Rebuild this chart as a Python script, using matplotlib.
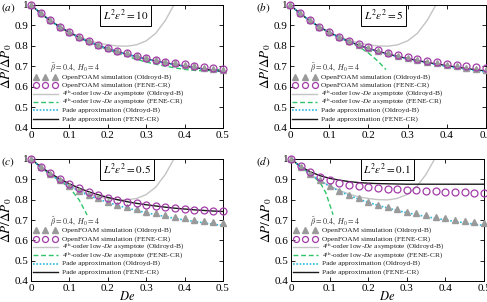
import matplotlib
matplotlib.use("Agg")
import matplotlib.pyplot as plt
import numpy as np

plt.rcParams['font.family'] = ['Liberation Serif', 'DejaVu Serif']
plt.rcParams['mathtext.fontset'] = 'stix'

# ---------------- data ----------------
De = [0.0, 0.025, 0.05, 0.075, 0.1, 0.125, 0.15, 0.175, 0.2, 0.225, 0.25,
      0.275, 0.3, 0.325, 0.35, 0.375, 0.4, 0.425, 0.45, 0.475, 0.5]

sim_oldroyd = [1.0, 0.960, 0.925, 0.895, 0.868, 0.845, 0.825, 0.806, 0.790, 0.776, 0.764,
               0.752, 0.741, 0.732, 0.723, 0.715, 0.708, 0.701, 0.695, 0.690, 0.685]

pade_oldroyd = [1.0, 0.960, 0.924, 0.893, 0.866, 0.842, 0.821, 0.803, 0.787, 0.772, 0.759,
                0.747, 0.736, 0.726, 0.717, 0.708, 0.700, 0.693, 0.686, 0.679, 0.673]

asym_oldroyd_De = [0.0, 0.025, 0.05, 0.075, 0.1, 0.125, 0.15, 0.175, 0.2, 0.225, 0.25,
                   0.275, 0.3, 0.325, 0.35, 0.375, 0.4]
asym_oldroyd = [1.0, 0.960, 0.925, 0.894, 0.868, 0.846, 0.828, 0.814, 0.806, 0.800, 0.799,
                0.806, 0.825, 0.862, 0.925, 1.010, 1.100]

labels_box = ["$L^2\\epsilon^2 = 10$", "$L^2\\epsilon^2 = 5$",
              "$L^2\\epsilon^2 = 0.5$", "$L^2\\epsilon^2 = 0.1$"]
panel_tags = ["$(a)$", "$(b)$", "$(c)$", "$(d)$"]

sim_fene = [
    [1.0, 0.960, 0.925, 0.895, 0.868, 0.845, 0.825, 0.807, 0.791, 0.777, 0.764,
     0.752, 0.742, 0.733, 0.724, 0.717, 0.710, 0.703, 0.697, 0.692, 0.687],
    [1.0, 0.960, 0.925, 0.895, 0.869, 0.846, 0.826, 0.808, 0.793, 0.779, 0.766,
     0.755, 0.745, 0.736, 0.728, 0.721, 0.714, 0.708, 0.702, 0.697, 0.692],
    [1.0, 0.962, 0.930, 0.902, 0.877, 0.856, 0.838, 0.823, 0.810, 0.799, 0.790,
     0.782, 0.775, 0.769, 0.764, 0.759, 0.755, 0.751, 0.748, 0.745, 0.743],
    [1.0, 0.965, 0.935, 0.912, 0.895, 0.882, 0.873, 0.866, 0.861, 0.857, 0.854,
     0.851, 0.848, 0.846, 0.844, 0.842, 0.840, 0.838, 0.836, 0.834, 0.832],
]

pade_fene = [
    [1.0, 0.960, 0.924, 0.893, 0.866, 0.842, 0.821, 0.803, 0.787, 0.773, 0.760,
     0.748, 0.737, 0.727, 0.718, 0.710, 0.702, 0.695, 0.688, 0.681, 0.675],
    [1.0, 0.960, 0.924, 0.893, 0.866, 0.843, 0.822, 0.804, 0.788, 0.774, 0.761,
     0.749, 0.739, 0.729, 0.720, 0.712, 0.704, 0.697, 0.690, 0.684, 0.678],
    [1.0, 0.962, 0.930, 0.902, 0.878, 0.857, 0.839, 0.824, 0.811, 0.800, 0.790,
     0.782, 0.775, 0.769, 0.763, 0.758, 0.754, 0.750, 0.747, 0.744, 0.742],
    [1.0, 0.963, 0.937, 0.918, 0.905, 0.896, 0.889, 0.884, 0.881, 0.879, 0.878,
     0.877, 0.876, 0.876, 0.876, 0.876, 0.876, 0.876, 0.876, 0.876, 0.876],
]

asym_fene_De = [
    [0.0, 0.025, 0.05, 0.075, 0.1, 0.125, 0.15, 0.175, 0.2, 0.225, 0.25,
     0.275, 0.3, 0.325, 0.35, 0.375, 0.4, 0.425, 0.45, 0.475, 0.5],
    [0.0, 0.025, 0.05, 0.075, 0.1, 0.125, 0.15, 0.175, 0.2, 0.225, 0.245],
    [0.0, 0.025, 0.05, 0.075, 0.1, 0.125, 0.146],
    [0.0, 0.025, 0.05, 0.075, 0.09, 0.109],
]
asym_fene = [
    [1.0, 0.960, 0.924, 0.893, 0.866, 0.842, 0.820, 0.800, 0.782, 0.765, 0.750,
     0.735, 0.722, 0.711, 0.702, 0.693, 0.686, 0.681, 0.679, 0.682, 0.688],
    [1.0, 0.960, 0.924, 0.893, 0.866, 0.843, 0.821, 0.797, 0.766, 0.725, 0.685],
    [1.0, 0.961, 0.925, 0.893, 0.860, 0.800, 0.725],
    [1.0, 0.962, 0.928, 0.885, 0.835, 0.726],
]

xticks = [0, 0.1, 0.2, 0.3, 0.4, 0.5]
xticklabels = ["0", "0.1", "0.2", "0.3", "0.4", "0.5"]
yticks = [0.4, 0.5, 0.6, 0.7, 0.8, 0.9, 1.0]
yticklabels = ["0.4", "0.5", "0.6", "0.7", "0.8", "0.9", "1"]

leg_labels = ["OpenFOAM simulation (Oldroyd-B)",
              "OpenFOAM simulation (FENE-CR)",
              "4$^{\\rm th}$-order low-$De$ asymptote (Oldroyd-B)",
              "4$^{\\rm th}$-order low-$De$ asymptote (FENE-CR)",
              "Pade approximation (Oldroyd-B)",
              "Pade approximation (FENE-CR)"]

# ---------------- style ----------------
c_tri = "#9a9a9a"
c_circ = "#a23ca8"
c_gray = "#c4c4c4"
c_green = "#2fc46a"
c_cyan = "#2fb8e0"
c_black = "#1a1a1a"

styles = [
    dict(ls='none', marker='^', ms=3.8, color=c_tri),
    dict(ls='none', marker='o', ms=4.3, mfc='none', mec=c_circ, mew=0.9),
    dict(color=c_gray, lw=1.0),
    dict(color=c_green, lw=1.0, ls=(0, (3.5, 2))),
    dict(color=c_cyan, lw=1.2, ls=(0, (1, 1))),
    dict(color=c_black, lw=1.0),
]

W, H = 487, 302
fig = plt.figure(figsize=(W / 100, H / 100), dpi=100)

rects_px = [(31, 223, 5, 128), (290, 486, 5, 128), (31, 223, 159, 281), (291, 484, 159, 281)]
tag_pos = [(1, 8), (256, 8), (1, 162), (256, 162)]

for i in range(4):
    l, r, t, b = rects_px[i]
    ax = fig.add_axes([l / W, 1 - b / H, (r - l) / W, (b - t) / H])
    ax.plot(asym_oldroyd_De, asym_oldroyd, zorder=2, **styles[2])
    ax.plot(asym_fene_De[i], asym_fene[i], zorder=3, **styles[3])
    ax.plot(De, pade_fene[i], zorder=4, **styles[5])
    ax.plot(De, pade_oldroyd, zorder=5, **styles[4])
    ax.plot(De, sim_oldroyd, ls='none', marker='^', ms=4.3, color=c_tri, mec=c_tri,
            zorder=6, clip_on=False)
    ax.plot(De, sim_fene[i], ls='none', marker='o', ms=5.0, mfc='none', mec=c_circ,
            mew=0.9, zorder=7, clip_on=False)

    ax.set_xlim(0, 0.5)
    ax.set_ylim(0.4, 1.0)
    ax.set_xticks(xticks)
    ax.set_xticklabels(xticklabels)
    ax.set_yticks(yticks)
    ax.set_yticklabels(yticklabels)
    ax.tick_params(direction='in', top=True, right=True, length=3, width=0.6,
                   labelsize=8, pad=2)
    for sp in ax.spines.values():
        sp.set_linewidth(0.7)
    ax.set_ylabel("$\\Delta P/\\Delta P_0$", fontsize=9.5, labelpad=0)
    if i >= 2:
        ax.set_xlabel("$De$", fontsize=9, labelpad=-2)

    ax.text(0.375, 0.915, labels_box[i], transform=ax.transAxes, fontsize=8,
            ha='left', va='center',
            bbox=dict(boxstyle='square,pad=0.25', fc='white', ec='black', lw=0.7), zorder=8)

    # legend (drawn manually for even row spacing)
    ax.text(0.1, 0.485, "$\\tilde{\\beta} = 0.4,\\ H_0 = 4$", transform=ax.transAxes,
            fontsize=5.8, ha='left', va='center', color='#333333')
    y0, dy = 0.415, 0.068
    for k in range(6):
        yk = y0 - k * dy
        if k < 2:
            ax.plot([0.025, 0.075, 0.125], [yk] * 3, transform=ax.transAxes,
                    clip_on=False, zorder=9, **styles[k])
        else:
            ax.plot([0.01, 0.14], [yk, yk], transform=ax.transAxes,
                    clip_on=False, zorder=9, **styles[k])
        ax.text(0.16, yk, leg_labels[k], transform=ax.transAxes, fontsize=5.3,
                ha='left', va='center', color='#222222', zorder=9)

    fig.text(tag_pos[i][0] / W, 1 - tag_pos[i][1] / H, panel_tags[i], fontsize=8,
             ha='left', va='center')

fig.savefig("out.png", dpi=100)
